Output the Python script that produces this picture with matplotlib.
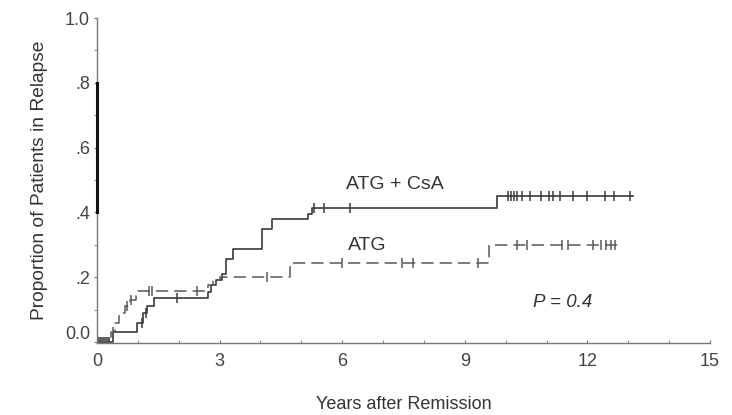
import numpy as np
import matplotlib
matplotlib.use("Agg")
from matplotlib import pyplot as plt
from matplotlib.ticker import MultipleLocator
from matplotlib.transforms import ScaledTranslation

plt.rcParams['font.family'] = ['Liberation Sans', 'DejaVu Sans']

# ATG + CsA arm: step times (years) and cumulative relapse after each step
csa_t = [0.38, 0.98, 1.12, 1.22, 1.4, 2.72, 2.8, 2.92, 3.05, 3.15, 3.33,
         4.04, 4.28, 5.17, 5.25, 9.78]
csa_p = [0.03, 0.06, 0.09, 0.11, 0.135, 0.155, 0.175, 0.19, 0.21, 0.255,
         0.286, 0.35, 0.38, 0.395, 0.415, 0.45]
csa_end = 13.12
csa_cens = [0.05, 0.1, 0.15, 0.2, 0.25, 0.3, 1.1, 1.2, 1.96, 5.3, 5.55, 6.19,
            10.06, 10.13, 10.2, 10.28, 10.39, 10.6, 10.86, 11.07, 11.15,
            11.33, 11.65, 12.0, 12.44, 12.65, 13.04]

# ATG arm
atg_t = [0.35, 0.44, 0.55, 0.68, 0.8, 0.95, 2.72, 2.85, 3.0, 4.72, 9.6]
atg_p = [0.03, 0.06, 0.09, 0.11, 0.13, 0.157, 0.175, 0.19, 0.2, 0.245, 0.30]
atg_end = 12.8
atg_cens = [0.08, 0.18, 0.28, 0.4, 0.73, 0.83, 1.27, 1.35, 2.45, 4.16, 5.99,
            7.46, 7.73, 9.32, 10.27, 10.52, 11.37, 11.53, 12.14, 12.33,
            12.45, 12.57, 12.67]

x_ticks = [0, 3, 6, 9, 12, 15]
y_ticks = [0.0, 0.2, 0.4, 0.6, 0.8, 1.0]
y_ticklabels = ["0.0", ".2", ".4", ".6", ".8", "1.0"]
dark_axis_seg = (0.4, 0.8)

fig = plt.figure(figsize=(7.32, 4.15), dpi=100)
ax = fig.add_axes([0.1325, 0.1735, 0.8375, 0.783])


def km_curve(ax, t, p, end, cens, **kw):
    tt = np.array([0.0] + list(t) + [end])
    pp = np.array([0.0] + list(p) + [p[-1]])
    ax.step(tt, pp, where='post', **kw)
    idx = np.searchsorted(tt, cens, side='right') - 1
    ax.plot(cens, pp[idx], linestyle='none', marker='|', markersize=7,
            markeredgewidth=1.1, color=kw.get('color', 'k'))


km_curve(ax, csa_t, csa_p, csa_end, csa_cens, color='#3a3a3a', lw=1.2)
km_curve(ax, atg_t, atg_p, atg_end, atg_cens, color='#585858', lw=1.1,
         dashes=(8, 4))

# dark stretch on the left axis
ax.plot([0, 0], dark_axis_seg, color='#111', lw=2.2, clip_on=False, zorder=5)

ax.text(7.29, 0.486, "ATG + CsA", fontsize=14, color='#333', ha='center',
        va='center')
ax.text(6.62, 0.298, "ATG", fontsize=14, color='#333', ha='center',
        va='center')
ax.text(11.4, 0.123, "P = 0.4", fontsize=13.5, style='italic', color='#333',
        ha='center', va='center')

ax.set_xlim(0, 15)
ax.set_ylim(-0.003, 1.0)
ax.set_xticks(x_ticks)
ax.xaxis.set_minor_locator(MultipleLocator(1))
ax.set_yticks(y_ticks)
ax.set_yticklabels(y_ticklabels)
ax.yaxis.set_minor_locator(MultipleLocator(0.1))

for s in ['top', 'right']:
    ax.spines[s].set_visible(False)
for s in ['left', 'bottom']:
    ax.spines[s].set_color('#777')
    ax.spines[s].set_linewidth(1.0)

ax.tick_params(axis='both', which='both', colors='#777', labelcolor='#444',
               labelsize=13)
ax.tick_params(axis='x', which='both', direction='in', length=2, pad=7)
ax.tick_params(axis='y', which='both', direction='out', length=2, pad=3)

# lift the "0.0" label off the x axis a little
zero_lab = ax.get_yticklabels()[0]
zero_lab.set_transform(zero_lab.get_transform() +
                       ScaledTranslation(0, 7 / 72, fig.dpi_scale_trans))

ax.set_xlabel("Years after Remission", fontsize=13, color='#333', labelpad=19)
ax.set_ylabel("Proportion of Patients in Relapse", fontsize=13.8,
              color='#333', labelpad=12)

plt.savefig("out.png", dpi=100)
